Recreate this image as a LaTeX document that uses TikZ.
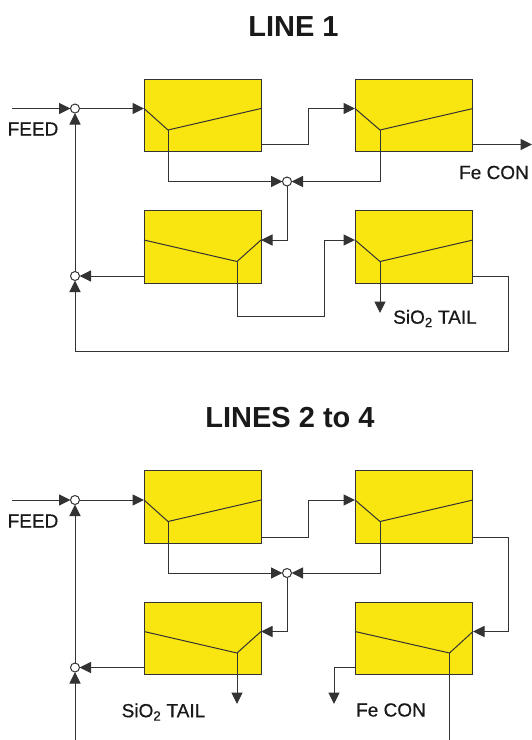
\documentclass[tikz,border=0pt]{standalone}
\usepackage{fontspec}
\setmainfont{Liberation Sans}
\newfontfamily\tagfont[FakeBold=0.55]{Liberation Sans}
\usetikzlibrary{arrows.meta}
\tikzset{
  cell/.style={draw=black!80,line width=1pt,fill=cellyellow,minimum width=117pt,minimum height=72.5pt,inner sep=0pt,outer sep=0pt},
  junction/.style={circle,draw=black!80,line width=1pt,fill=white,minimum size=9pt,inner sep=0pt,outer sep=0pt},
  flow/.style={draw=black!80,line width=1pt,line join=miter},
  arrowflow/.style={flow,-{Triangle[length=11.5pt,width=11pt]}},
  heading/.style={font=\fontsize{29}{32}\selectfont\bfseries,text=black!90,inner sep=0pt},
  tag/.style={font=\fontsize{19}{22}\selectfont\tagfont,text=black!90,inner sep=0pt}
}
\definecolor{cellyellow}{HTML}{F9E50F}
\begin{document}
\begin{tikzpicture}[x=1pt,y=-1pt]
\useasboundingbox (0,0) rectangle (532,740);
% ---------- LINE 1
\node[heading] (t1) at (293.5,27) {LINE 1};
\node[cell] (a1) at (202.5,115.5) {};
\node[cell] (a2) at (414,115.5) {};
\node[cell] (a3) at (202.5,247) {};
\node[cell] (a4) at (414,247) {};
\node[junction] (j1) at (75,108.5) {};
\node[junction] (j2) at (75,276) {};
\node[junction] (j3) at (287,181.5) {};
\node[tag] (l1) at (33,129) {FEED};
\node[tag] (l2) at (494,172.5) {Fe CON};
\node[tag] (l3) at (435,318.5) {SiO\textsubscript{2} TAIL};
\coordinate (a1i) at (144,108.5);\coordinate (a1m) at (168,130);\coordinate (a1r) at (261,108.5);
\coordinate (a2i) at (355,108.5);\coordinate (a2m) at (380,130);\coordinate (a2r) at (473,108.5);
\coordinate (a3i) at (261,240);\coordinate (a3m) at (237,261.5);\coordinate (a3l) at (144,240);
\coordinate (a4i) at (355,240);\coordinate (a4m) at (380,261.5);\coordinate (a4r) at (473,240);
\coordinate (in1) at (12,108.5);\coordinate (out1) at (532,144.5);\coordinate (tail1) at (380,313);
\draw[flow] (a1i)--(a1m)--(a1r);
\draw[flow] (a2i)--(a2m)--(a2r);
\draw[flow] (a3l)--(a3m)--(a3i);
\draw[flow] (a4i)--(a4m)--(a4r);
\draw[arrowflow] (in1)--(j1);
\draw[arrowflow] (j1)--(a1i);
\draw[arrowflow] (j2)--(j1);
\draw[arrowflow] (261,144.5)-|(308.5,108.5)--(a2i);
\draw[arrowflow] (473,144.5)--(out1);
\draw[arrowflow] (a1m)|-(j3);
\draw[arrowflow] (a2m)|-(j3);
\draw[arrowflow] (j3)|-(a3i);
\draw[arrowflow] (144,276)--(j2);
\draw[arrowflow] (a3m)|-(324,316.5)--(324,240)--(a4i);
\draw[arrowflow] (a4m)--(tail1);
\draw[arrowflow] (473,276)-|(508,351)-|(j2);
% ---------- LINES 2 to 4
\node[heading] (t2) at (290,418) {LINES 2 to 4};
\node[cell] (b1) at (202.5,507) {};
\node[cell] (b2) at (414,507) {};
\node[cell] (b3) at (202.5,638.5) {};
\node[cell] (b4) at (414,638.5) {};
\node[junction] (k1) at (75,500) {};
\node[junction] (k2) at (75,667.5) {};
\node[junction] (k3) at (287,573) {};
\node[tag] (m1) at (33,521) {FEED};
\node[tag] (m2) at (391,710) {Fe CON};
\node[tag] (m3) at (163.5,712) {SiO\textsubscript{2} TAIL};
\coordinate (b1i) at (144,500);\coordinate (b1m) at (168,521.5);\coordinate (b1r) at (261,500);
\coordinate (b2i) at (355,500);\coordinate (b2m) at (380,521.5);\coordinate (b2r) at (473,500);
\coordinate (b3i) at (261,631.5);\coordinate (b3m) at (237,653);\coordinate (b3l) at (144,631.5);
\coordinate (b4i) at (473,631.5);\coordinate (b4m) at (449.5,653);\coordinate (b4l) at (355,631.5);
\coordinate (in2) at (12,500);\coordinate (tail2) at (237,704);\coordinate (con2) at (334,704);
\coordinate (end1) at (75,740);\coordinate (end2) at (449.5,740);
\draw[flow] (b1i)--(b1m)--(b1r);
\draw[flow] (b2i)--(b2m)--(b2r);
\draw[flow] (b3l)--(b3m)--(b3i);
\draw[flow] (b4l)--(b4m)--(b4i);
\draw[arrowflow] (in2)--(k1);
\draw[arrowflow] (k1)--(b1i);
\draw[arrowflow] (k2)--(k1);
\draw[arrowflow] (261,537)-|(308.5,500)--(b2i);
\draw[arrowflow] (473,537)-|(508,631.5)--(b4i);
\draw[arrowflow] (b1m)|-(k3);
\draw[arrowflow] (b2m)|-(k3);
\draw[arrowflow] (k3)|-(b3i);
\draw[arrowflow] (144,667.5)--(k2);
\draw[arrowflow] (b3m)--(tail2);
\draw[arrowflow] (355,667.5)-|(con2);
\draw[arrowflow] (end1)--(k2);
\draw[flow] (b4m)--(end2);
\end{tikzpicture}
\end{document}
